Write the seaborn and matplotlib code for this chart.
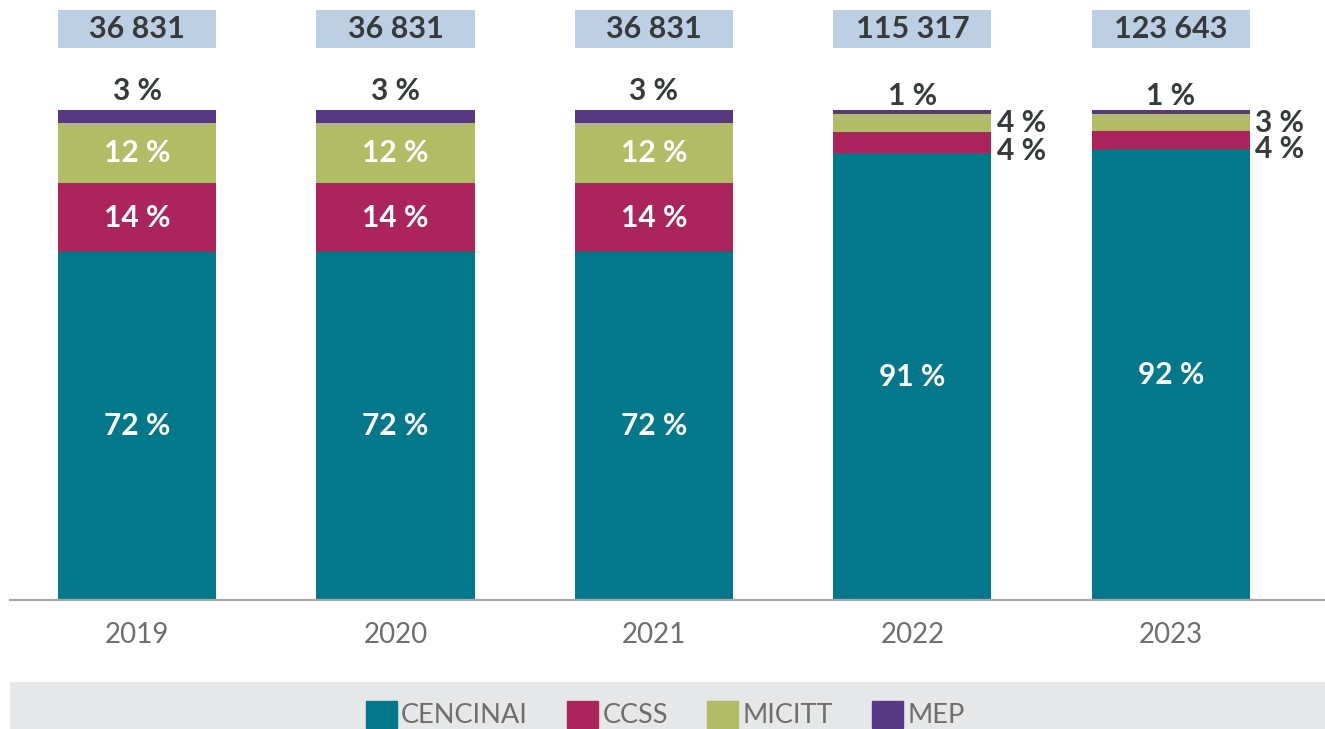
import matplotlib
matplotlib.use("Agg")
import matplotlib.pyplot as plt
import matplotlib.patches as mpatches
import seaborn as sns
import pandas as pd
import numpy as np

years = ["2019", "2020", "2021", "2022", "2023"]
totals = ["36 831", "36 831", "36 831", "115 317", "123 643"]
series = ["CENCINAI", "CCSS", "MICITT", "MEP"]
cencinai = [71.0, 71.0, 71.0, 91.2, 91.8]
ccss = [14.1, 14.1, 14.1, 4.3, 3.9]
micitt = [12.2, 12.2, 12.2, 3.7, 3.5]
mep = [2.7, 2.7, 2.7, 0.8, 0.8]
lab_cencinai = ["72 %", "72 %", "72 %", "91 %", "92 %"]
lab_ccss = ["14 %", "14 %", "14 %", "4 %", "4 %"]
lab_micitt = ["12 %", "12 %", "12 %", "4 %", "3 %"]
lab_mep = ["3 %", "3 %", "3 %", "1 %", "1 %"]
inside = [True, True, True, False, False]

colors = ["#04788b", "#ab245c", "#b1bc64", "#573983"]
box_color = "#bdd0e3"
dark = "#353a3a"
gray = "#6b6b6b"

sns.set_theme(style="white")
plt.rcParams["font.family"] = ["Lato", "DejaVu Sans"]

df = pd.DataFrame({"year": years, "CENCINAI": cencinai, "CCSS": ccss,
                   "MICITT": micitt, "MEP": mep})
cum = df[series].cumsum(axis=1)

fig = plt.figure(figsize=(13.25, 7.29), dpi=100)
ax = fig.add_axes([10 / 1325, 129 / 729, 1 - 10 / 1325, 600 / 729])

W = 0.612
for s, c in reversed(list(zip(series, colors))):
    sns.barplot(x=df["year"], y=cum[s], color=c, width=W, ax=ax,
                saturation=1, linewidth=0, order=years)

ax.set_xlim(-0.492, 4.597)
ax.set_ylim(0, 122.45)

FS = 21.5
# header boxes with totals
x = np.arange(len(years))
ax.bar(x, 7.7, bottom=112.7, width=W, color=box_color, linewidth=0)
for i, t in enumerate(totals):
    ax.text(i, 116.55, t, ha="center", va="center", fontsize=22,
            fontweight="bold", color=dark)

# segment labels
for i in range(len(years)):
    c1 = cencinai[i]
    ax.text(i, c1 / 2, lab_cencinai[i], ha="center", va="center",
            fontsize=FS, fontweight="bold", color="white")
    c2 = c1 + ccss[i]
    c3 = c2 + micitt[i]
    c4 = c3 + mep[i]
    if inside[i]:
        ax.text(i, (c1 + c2) / 2, lab_ccss[i], ha="center", va="center",
                fontsize=FS, fontweight="bold", color="white")
        ax.text(i, (c2 + c3) / 2, lab_micitt[i], ha="center", va="center",
                fontsize=FS, fontweight="bold", color="white")
        ax.text(i, c4 + 3.8, lab_mep[i], ha="center", va="center",
                fontsize=FS, fontweight="bold", color=dark)
    else:
        xr = i + W / 2 + 0.022
        ax.text(xr, (c1 + c2) / 2 - 1.7, lab_ccss[i], ha="left", va="center",
                fontsize=FS, fontweight="bold", color=dark)
        ax.text(xr, (c2 + c3) / 2 - 0.1, lab_micitt[i], ha="left", va="center",
                fontsize=FS, fontweight="bold", color=dark)
        ax.text(i, c4 + 2.9, lab_mep[i], ha="center", va="center",
                fontsize=FS, fontweight="bold", color=dark)

ax.set_xlabel("")
ax.set_ylabel("")
ax.set_yticks([])
for sp in ["top", "left", "right"]:
    ax.spines[sp].set_visible(False)
ax.spines["bottom"].set_color("#a8a8a8")
ax.spines["bottom"].set_linewidth(1.6)
ax.tick_params(axis="x", length=0, pad=16, labelsize=20, labelcolor="#6e6e6e")
for lbl in ax.get_xticklabels():
    lbl.set_fontweight("normal")

# legend band
band = mpatches.Rectangle((10 / 1325, 0), 1 - 10 / 1325, 47 / 729,
                          transform=fig.transFigure, color="#e6e7e9",
                          zorder=0, linewidth=0)
fig.add_artist(band)
handles = [mpatches.Patch(color=c, label=s) for s, c in zip(series, colors)]
leg = fig.legend(handles=handles, loc="lower center", ncol=4,
                 bbox_to_anchor=(0.502, -0.014), frameon=False,
                 fontsize=19.5, handlelength=1.15, handleheight=1.15,
                 handletextpad=0.15, columnspacing=1.45, borderaxespad=0)
for t in leg.get_texts():
    t.set_color("#6e6e6e")
    t.set_fontweight("normal")

fig.savefig("out.png", dpi=100)
